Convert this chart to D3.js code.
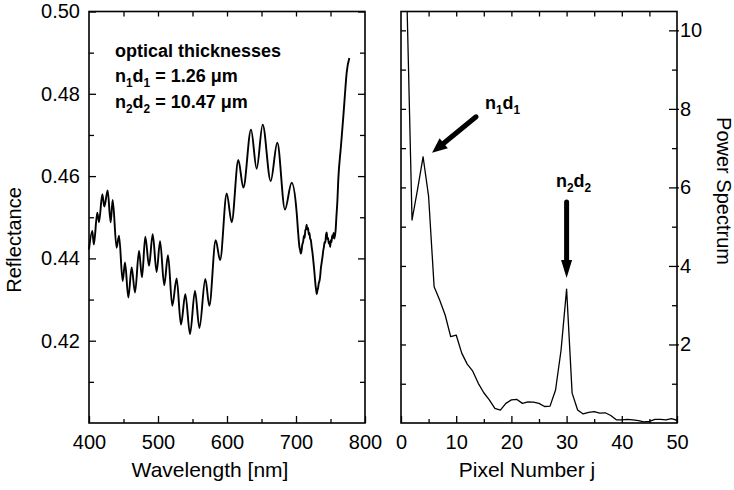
<!DOCTYPE html>
<html><head><meta charset="utf-8">
<script src="https://cdn.jsdelivr.net/npm/d3@7"></script>
<style>
body{margin:0;background:#fff}
svg text{font-family:"Liberation Sans",Arial,Helvetica,sans-serif;fill:#000}
</style></head><body>
<svg id="chart" width="734" height="490"></svg>
<script>
// Reflectance spectrum of the two-layer film
const wavelength = [400, 404.8, 407, 412, 414.5, 419.3, 422.2, 427, 431.4, 434.3, 440, 443.5, 448.8, 452.2, 457, 461.8,
  466.7, 472.5, 476.8, 481.6, 487, 492.3, 498, 503, 509, 514.5, 520.7, 527, 533.3, 539.6, 546.4, 553.6, 560, 568.6,
  574.4, 583.6, 590, 599.6, 606.8, 616.4, 623.7, 634.8, 643, 651.7, 663.3, 672.9, 684, 693.7, 701, 703, 704.8, 706,
  707, 708, 709, 710.5, 711.5, 712.5, 713.5, 714.5, 715.4, 716.5, 717.5, 718.5, 719.5, 720.5, 721.5, 722.7, 724, 725,
  726.5, 727.5, 728.5, 729.3, 730, 731, 732, 733, 734, 735, 736, 737.2, 738.5, 739.6, 740.5, 741.5, 742.5, 743.5,
  744.5, 745.5, 746.5, 747.5, 748.5, 749.5, 750.5, 751.5, 752.5, 753.5, 754.5, 755.5, 756.5, 757.5, 758.5, 760,
  761.3, 765, 768.6, 771, 773.4, 777.3];
const reflectance = [0.4422, 0.4467, 0.4434, 0.4511, 0.4488, 0.4556, 0.4526, 0.4565, 0.4488, 0.4542, 0.4426, 0.4455,
  0.4345, 0.4390, 0.4305, 0.4378, 0.4317, 0.4418, 0.4354, 0.4453, 0.4382, 0.4459, 0.4367, 0.4442, 0.4335, 0.4408,
  0.4285, 0.4351, 0.4239, 0.4313, 0.4216, 0.4321, 0.4231, 0.4350, 0.4285, 0.4444, 0.4396, 0.4558, 0.4488, 0.4639,
  0.4572, 0.4713, 0.4618, 0.4725, 0.4588, 0.4681, 0.4519, 0.4584, 0.4511, 0.4465, 0.4430, 0.4420, 0.4412, 0.4418,
  0.4432, 0.4442, 0.4455, 0.4450, 0.4468, 0.4472, 0.4482, 0.4470, 0.4474, 0.4458, 0.4462, 0.4448, 0.4445, 0.4428,
  0.4412, 0.4396, 0.4370, 0.4350, 0.4332, 0.4322, 0.4313, 0.4322, 0.4328, 0.4340, 0.4345, 0.4356, 0.4375, 0.4390,
  0.4405, 0.4420, 0.4428, 0.4440, 0.4438, 0.4458, 0.4463, 0.4447, 0.4450, 0.4436, 0.4440, 0.4428, 0.4444, 0.4440,
  0.4456, 0.4450, 0.4462, 0.4448, 0.4456, 0.4470, 0.4500, 0.4540, 0.4592, 0.4670, 0.4745, 0.4800, 0.4851, 0.4887];

// Fourier power spectrum versus pixel number
const pixelNumber = [1, 2, 3, 4, 5, 6, 7, 8, 9, 10, 11, 12, 13, 14, 15, 16, 17, 18, 19, 20, 21, 22, 23, 24, 25,
  26, 27, 28, 29, 30, 31, 32, 33, 34, 35, 36, 37, 38, 39, 40, 41, 42, 43, 44, 45, 46, 47, 48, 49, 50];
const powerSpectrum = [11.2, 5.17, 5.95, 6.78, 5.77, 3.47, 3.13, 2.75, 2.2, 2.24, 1.78, 1.5, 1.32, 1.01, 0.77, 0.59,
  0.37, 0.33, 0.50, 0.59, 0.60, 0.50, 0.54, 0.53, 0.50, 0.42, 0.43, 0.84, 1.86, 3.41, 0.76, 0.33, 0.23, 0.27, 0.29,
  0.25, 0.26, 0.19, 0.08, 0.08, 0.09, 0.08, 0.06, 0.03, 0.04, 0.09, 0.09, 0.08, 0.11, 0.07];

// Tick values
const reflTicks = [0.42, 0.44, 0.46, 0.48, 0.50];
const reflMinor = [0.41, 0.43, 0.45, 0.47, 0.49];
const wlTicks = [400, 500, 600, 700, 800];
const wlMinor = [450, 550, 650, 750];
const wlTop = [450, 500, 550, 600, 650, 700, 750];
const pixTicks = [0, 10, 20, 30, 40, 50];
const pixMinor = [5, 15, 25, 35, 45];
const pixTop = [5, 10, 15, 20, 25, 30, 35, 40, 45];
const powerTicks = [2, 4, 6, 8, 10];
const powerMinor = [1, 3, 5, 7, 9];
const powerLeft = [1, 2, 3, 4, 5, 6, 7, 8, 9, 10];

// Annotated peaks (pixel numbers)
const peak1 = 4, peak2 = 30;

const svg = d3.select("#chart");
const yTop = 11.5, yBot = 423;
const L = {x0: 89, x1: 365}, R = {x0: 401, x1: 677};

const xW = d3.scaleLinear().domain([400, 800]).range([L.x0, L.x1]);
const yR = d3.scaleLinear().domain([0.40, 0.50]).range([yBot, yTop]);
const xP = d3.scaleLinear().domain([0, 50]).range([R.x0, R.x1]);
const yP = d3.scaleLinear().domain([0, 10.48]).range([yBot, yTop]);

function drawAxis(axisFn, scale, values, size, transform, fmt, pad) {
  const a = axisFn(scale).tickValues(values).tickSize(size).tickSizeOuter(0);
  if (fmt) a.tickFormat(fmt).tickPadding(pad); else a.tickFormat("");
  const g = svg.append("g").attr("transform", transform).call(a);
  g.select(".domain").remove();
  g.selectAll("line").attr("stroke", "#000").attr("stroke-width", 1.3);
  g.selectAll("text").attr("font-size", 20).attr("font-family", null);
  return g;
}

// ---- left panel axes ----
drawAxis(d3.axisLeft, yR, reflTicks, -7, `translate(${L.x0},0)`, d3.format(".2f"), 9);
drawAxis(d3.axisLeft, yR, reflMinor, -5, `translate(${L.x0},0)`);
drawAxis(d3.axisRight, yR, reflTicks, -7, `translate(${L.x1},0)`);
drawAxis(d3.axisRight, yR, reflMinor, -5, `translate(${L.x1},0)`);
drawAxis(d3.axisBottom, xW, wlTicks, -7, `translate(0,${yBot})`, d3.format("d"), 12);
drawAxis(d3.axisBottom, xW, wlMinor, -4, `translate(0,${yBot})`);
drawAxis(d3.axisTop, xW, wlTop, -5, `translate(0,${yTop})`);

// ---- right panel axes ----
drawAxis(d3.axisLeft, yP, powerLeft, -5, `translate(${R.x0},0)`);
drawAxis(d3.axisRight, yP, powerTicks, -8, `translate(${R.x1},0)`, d3.format("d"), 3);
drawAxis(d3.axisRight, yP, powerTicks, 2, `translate(${R.x1},0)`);
drawAxis(d3.axisRight, yP, powerMinor, -5, `translate(${R.x1},0)`);
drawAxis(d3.axisBottom, xP, pixTicks, -7, `translate(0,${yBot})`, d3.format("d"), 12);
drawAxis(d3.axisBottom, xP, pixMinor, -4, `translate(0,${yBot})`);
drawAxis(d3.axisTop, xP, pixTop, -5, `translate(0,${yTop})`);

// frames
[L, R].forEach(p => {
  svg.append("rect").attr("x", p.x0).attr("y", yTop).attr("width", p.x1 - p.x0).attr("height", yBot - yTop)
    .attr("fill", "none").attr("stroke", "#000").attr("stroke-width", 1.6);
});

// ---- curves ----
svg.append("defs").append("clipPath").attr("id", "clipR")
  .append("rect").attr("x", R.x0).attr("y", yTop).attr("width", R.x1 - R.x0).attr("height", yBot - yTop);

const reflLine = d3.line().x((d, i) => xW(wavelength[i])).y(d => yR(d)).curve(d3.curveMonotoneX);
svg.append("path").attr("d", reflLine(reflectance)).attr("fill", "none").attr("stroke", "#000")
  .attr("stroke-width", 1.9).attr("stroke-linejoin", "round");

const powerLine = d3.line().x((d, i) => xP(pixelNumber[i])).y(d => yP(d));
svg.append("path").attr("d", powerLine(powerSpectrum)).attr("clip-path", "url(#clipR)")
  .attr("fill", "none").attr("stroke", "#000").attr("stroke-width", 1.3).attr("stroke-linejoin", "round");

// ---- axis titles ----
svg.append("text").attr("x", 210).attr("y", 477).attr("text-anchor", "middle").attr("font-size", 21)
  .text("Wavelength [nm]");
svg.append("text").attr("x", 527).attr("y", 477).attr("text-anchor", "middle").attr("font-size", 21)
  .text("Pixel Number j");
svg.append("text").attr("transform", "translate(21,240) rotate(-90)").attr("text-anchor", "middle")
  .attr("font-size", 20).text("Reflectance");
svg.append("text").attr("transform", "translate(717,191) rotate(90)").attr("text-anchor", "middle")
  .attr("font-size", 20).text("Power Spectrum");

// ---- annotations ----
function subLabel(x, y, parts, size) {
  const t = svg.append("text").attr("x", x).attr("y", y).attr("font-size", size).attr("font-weight", "bold");
  parts.forEach(p => {
    if (p.sub) t.append("tspan").attr("font-size", size * 0.66).attr("dy", 5).text(p.sub);
    else t.append("tspan").attr("dy", p.after ? -5 : 0).text(p.t);
  });
  return t;
}
svg.append("text").attr("x", 115).attr("y", 57).attr("font-size", 18).attr("font-weight", "bold")
  .text("optical thicknesses");
subLabel(115, 82, [{t: "n"}, {sub: "1"}, {t: "d", after: true}, {sub: "1"}, {t: " = 1.26 \u03bcm", after: true}], 18);
subLabel(115, 108, [{t: "n"}, {sub: "2"}, {t: "d", after: true}, {sub: "2"}, {t: " = 10.47 \u03bcm", after: true}], 18);

subLabel(485, 109, [{t: "n"}, {sub: "1"}, {t: "d", after: true}, {sub: "1"}], 18);
subLabel(556, 187, [{t: "n"}, {sub: "2"}, {t: "d", after: true}, {sub: "2"}], 18);

// arrows pointing at the two spectral peaks
function arrow(x1, y1, x2, y2, w, headL, headW) {
  const ang = Math.atan2(y2 - y1, x2 - x1);
  const bx = x2 - headL * Math.cos(ang), by = y2 - headL * Math.sin(ang);
  svg.append("line").attr("x1", x1).attr("y1", y1).attr("x2", bx).attr("y2", by)
    .attr("stroke", "#000").attr("stroke-width", w).attr("stroke-linecap", "round");
  const nx = -Math.sin(ang) * headW / 2, ny = Math.cos(ang) * headW / 2;
  svg.append("path").attr("d", `M${x2},${y2}L${bx + nx},${by + ny}L${bx - nx},${by - ny}Z`).attr("fill", "#000");
}
const p1x = xP(peak1), p1y = yP(powerSpectrum[pixelNumber.indexOf(peak1)]);
arrow(p1x + 53, p1y - 40, p1x + 9, p1y - 4, 5, 15, 13);
const p2x = xP(peak2), p2y = yP(powerSpectrum[pixelNumber.indexOf(peak2)]);
arrow(p2x, p2y - 87, p2x, p2y - 11, 5, 18, 11);
</script></body></html>
